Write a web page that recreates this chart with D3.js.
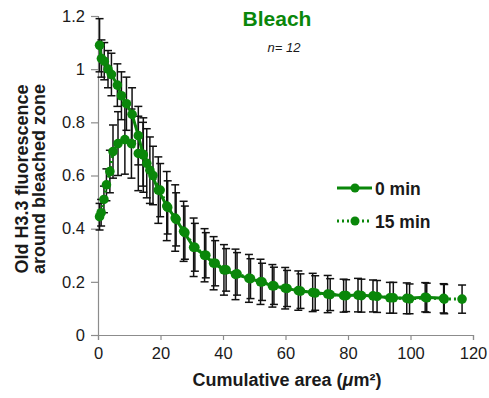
<!DOCTYPE html>
<html>
<head>
<meta charset="utf-8">
<script src="https://cdn.jsdelivr.net/npm/d3@7"></script>
<style>
  body { margin: 0; background: #fff; }
  svg { font-family: "Liberation Sans", Arial, Helvetica, sans-serif; }
</style>
</head>
<body>
<svg id="chart" width="489" height="398"></svg>
<script>
// 0 min series
const x0min = [0.5, 1.1, 2.0, 3.2, 4.3, 6.2, 7.5, 9.1, 10.9, 12.9, 14.4, 16.6, 19.3, 22, 24.7, 27.4, 30.6, 34.1, 37, 40.3, 44, 48.3, 52, 55.8, 59.9, 64.1, 68.7, 73.5, 78.6, 83.2, 88, 93.4, 98.8, 104.7, 110.6];
const y0min = [1.09, 1.04, 1.03, 1.0, 0.98, 0.94, 0.90, 0.87, 0.83, 0.75, 0.68, 0.62, 0.545, 0.485, 0.44, 0.39, 0.33, 0.30, 0.27, 0.245, 0.228, 0.213, 0.2, 0.185, 0.176, 0.167, 0.16, 0.154, 0.148, 0.15, 0.147, 0.14, 0.138, 0.142, 0.138];
const e0min = [0.10, 0.07, 0.07, 0.07, 0.08, 0.08, 0.09, 0.10, 0.10, 0.11, 0.12, 0.125, 0.125, 0.13, 0.125, 0.113, 0.11, 0.10, 0.10, 0.095, 0.095, 0.09, 0.085, 0.08, 0.078, 0.074, 0.072, 0.07, 0.062, 0.063, 0.06, 0.058, 0.058, 0.055, 0.055];

// 15 min series
const x15min = [0.5, 1.0, 1.9, 2.7, 3.8, 4.8, 6.4, 8.6, 10.7, 12.9, 14.5, 15.6, 17.6, 19.9, 22.3, 25, 27.8, 31, 34.5, 37.5, 41, 44.5, 48.8, 52.5, 56.3, 60.5, 64.8, 69.5, 74.3, 79.4, 84.3, 89.3, 94.5, 99.7, 105.2, 110.8, 116.5];
const y15min = [0.445, 0.46, 0.51, 0.565, 0.615, 0.69, 0.72, 0.735, 0.72, 0.683, 0.677, 0.646, 0.60, 0.545, 0.48, 0.435, 0.385, 0.33, 0.30, 0.27, 0.245, 0.23, 0.212, 0.2, 0.185, 0.175, 0.165, 0.158, 0.152, 0.148, 0.148, 0.145, 0.14, 0.136, 0.14, 0.135, 0.135];
const e15min = [0.05, 0.05, 0.05, 0.06, 0.08, 0.10, 0.12, 0.13, 0.13, 0.14, 0.14, 0.13, 0.11, 0.10, 0.10, 0.10, 0.10, 0.09, 0.085, 0.085, 0.08, 0.08, 0.075, 0.07, 0.07, 0.068, 0.065, 0.065, 0.06, 0.06, 0.062, 0.06, 0.058, 0.056, 0.055, 0.055, 0.053];

const xTicks = [0, 20, 40, 60, 80, 100, 120];
const yTicks = [0, 0.2, 0.4, 0.6, 0.8, 1, 1.2];
const seriesNames = ["0 min", "15 min"];

const green = "#0a870a";
const svg = d3.select("#chart");
const margin = { top: 16, right: 16, bottom: 63, left: 98 };
const width = 489 - margin.left - margin.right;
const height = 398 - margin.top - margin.bottom;

const xScale = d3.scaleLinear().domain([0, 120]).range([0, width]);
const yScale = d3.scaleLinear().domain([0, 1.2]).range([height, 0]);

const g = svg.append("g").attr("transform", "translate(" + margin.left + "," + margin.top + ")");

// axes
const xAxis = g.append("g")
    .attr("transform", "translate(0," + height + ")")
    .call(d3.axisBottom(xScale).tickValues(xTicks).tickSize(5).tickPadding(7).tickFormat(d3.format("d")));
const yAxis = g.append("g")
    .call(d3.axisLeft(yScale).tickValues(yTicks).tickSize(7).tickPadding(6).tickFormat(d => d));
[xAxis, yAxis].forEach(a => {
    a.select(".domain").attr("stroke", "#8c8c8c").attr("stroke-width", 1.2);
    a.selectAll(".tick line").attr("stroke", "#8c8c8c").attr("stroke-width", 1.2);
    a.selectAll(".tick text").attr("fill", "#1a1a1a").style("font-size", "16.5px");
});

const series = [
    { name: seriesNames[0], xs: x0min, ys: y0min, es: e0min, dash: null },
    { name: seriesNames[1], xs: x15min, ys: y15min, es: e15min, dash: "2,3" }
];

// error bars
series.forEach(s => {
    const pts = s.xs.map((x, i) => ({ x: x, y: s.ys[i], e: s.es[i] }));
    const eb = g.append("g").attr("stroke", "#111").attr("stroke-width", 1.5);
    pts.forEach(p => {
        const cx = xScale(p.x), top = yScale(Math.min(p.y + p.e, 1.2)), bot = yScale(p.y - p.e);
        eb.append("line").attr("x1", cx).attr("x2", cx).attr("y1", top).attr("y2", bot);
        eb.append("line").attr("x1", cx - 4).attr("x2", cx + 4).attr("y1", top).attr("y2", top);
        eb.append("line").attr("x1", cx - 4).attr("x2", cx + 4).attr("y1", bot).attr("y2", bot);
    });
});

// lines and markers
const line = d3.line().x(d => xScale(d.x)).y(d => yScale(d.y));
series.slice().reverse().forEach(s => {
    const pts = s.xs.map((x, i) => ({ x: x, y: s.ys[i] }));
    g.append("path")
        .datum(pts)
        .attr("fill", "none")
        .attr("stroke", green)
        .attr("stroke-width", 3)
        .attr("stroke-dasharray", s.dash)
        .attr("d", line);
    g.selectAll(null)
        .data(pts)
        .enter()
        .append("circle")
        .attr("cx", d => xScale(d.x))
        .attr("cy", d => yScale(d.y))
        .attr("r", 4.8)
        .attr("fill", green);
});

// legend
const legend = svg.append("g").attr("transform", "translate(337,188)");
series.forEach((s, i) => {
    const row = legend.append("g").attr("transform", "translate(0," + (i * 33) + ")");
    row.append("line").attr("x1", 0).attr("x2", 35).attr("y1", 0).attr("y2", 0)
        .attr("stroke", green).attr("stroke-width", 3).attr("stroke-dasharray", s.dash);
    row.append("circle").attr("cx", 18).attr("cy", 0).attr("r", 4.5).attr("fill", green);
    row.append("text").attr("x", 38).attr("y", 6.5)
        .style("font-size", "17.5px").style("font-weight", "bold").attr("fill", "#1a1a1a")
        .text(s.name);
});

// title
svg.append("text").attr("x", 277).attr("y", 26).attr("text-anchor", "middle")
    .style("font-size", "21px").style("font-weight", "bold").attr("fill", green).text("Bleach");
svg.append("text").attr("x", 284).attr("y", 52).attr("text-anchor", "middle")
    .style("font-size", "13px").style("font-style", "italic").attr("fill", "#1a1a1a").text("n= 12");

// x axis label
const xl = svg.append("text").attr("x", 287).attr("y", 386).attr("text-anchor", "middle")
    .style("font-size", "18px").style("font-weight", "bold").attr("fill", "#1a1a1a");
xl.append("tspan").text("Cumulative area (");
xl.append("tspan").style("font-style", "italic").text("μ");
xl.append("tspan").text("m²)");

// y axis label
const yl = svg.append("text").attr("transform", "translate(0,179) rotate(-90)").attr("text-anchor", "middle")
    .style("font-size", "18px").style("font-weight", "bold").attr("fill", "#1a1a1a");
yl.append("tspan").attr("x", 0).attr("y", 28).text("Old H3.3 fluorescence");
yl.append("tspan").attr("x", 0).attr("y", 45).text("around bleached zone");
</script>
</body>
</html>
